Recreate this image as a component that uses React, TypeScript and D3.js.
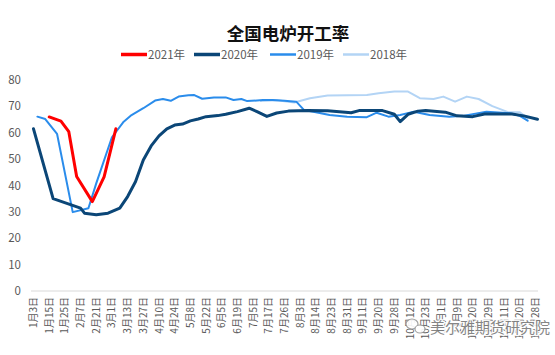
import React from "react";
import * as d3 from "d3";

const title = "全国电炉开工率";
const xLabels = [
  "1月3日", "1月15日", "1月25日", "2月7日", "2月21日", "3月1日", "3月13日", "3月27日",
  "4月10日", "4月24日", "5月8日", "5月22日", "6月5日", "6月19日", "7月5日", "7月17日",
  "7月26日", "8月3日", "8月14日", "8月23日", "8月31日", "9月11日", "9月20日", "9月28日",
  "10月12日", "10月23日", "11月1日", "11月9日", "11月20日", "11月29日", "12月11日", "12月20日", "12月28日",
];
const labelStep = 4; // one label every 4 date categories
const categoryCount = 129;
const yTicks = [0, 10, 20, 30, 40, 50, 60, 70, 80];

// [category index, value]
const s2021: [number, number][] = [
  [4, 66], [7, 64.4], [9, 60.4], [11, 43.4], [15, 33.9], [18, 43.3], [21, 61.5],
];
const s2020: [number, number][] = [
  [0, 61.5], [5, 35.0], [12, 31.4], [13, 29.5], [16, 28.9], [19, 29.5], [22, 31.4], [24, 35.8],
  [26, 41.4], [28, 49.7], [30, 55], [32, 58.8], [34, 61.5], [36, 62.9], [38, 63.3], [40, 64.5],
  [42, 65.2], [44, 66.1], [47, 66.5], [49, 67], [52, 68], [55, 69.3], [57, 68], [59.5, 66.2],
  [62, 67.5], [65, 68.2], [70, 68.4], [75, 68.3], [78, 68], [81, 67.6], [83, 68.4], [89, 68.4],
  [92, 67], [93.5, 64.2], [95.5, 67], [98, 68.2], [100, 68.4], [105, 67.8], [108, 66.4],
  [112, 66.1], [115, 67.1], [122, 67.1], [125, 66.4], [128.5, 65.1],
];
const s2019: [number, number][] = [
  [1, 66.1], [3, 65.2], [6, 59.6], [10, 29.9], [14, 31.4], [16, 40.8], [20, 58.3], [23, 64.2],
  [25, 66.7], [28, 69.3], [31, 72.2], [33, 72.8], [35, 72.1], [37, 73.7], [39.5, 74.2], [41, 74.3],
  [43, 72.9], [46, 73.4], [49, 73.4], [51, 72.4], [53, 72.8], [54.5, 72], [58.5, 72.4], [61, 72.4],
  [64, 72.1], [67, 71.8], [69, 68.6], [72, 67.8], [75.5, 66.7], [80, 66.1], [85, 65.9], [87.5, 67.6],
  [90.5, 66.1], [93.5, 66.7], [97, 68], [101, 66.7], [106, 66.1], [109.5, 66.4], [115.5, 68],
  [121.5, 67.4], [124, 66.4], [126, 64.6],
];
const s2018: [number, number][] = [
  [58, 72], [62, 72.3], [66.5, 71.5], [70.5, 73.1], [75, 74.1], [85, 74.3], [88, 75], [92, 75.6],
  [95.5, 75.6], [98.5, 73.1], [102, 72.8], [104.5, 73.7], [107.5, 71.8], [110.5, 73.7],
  [113.5, 72.8], [117, 70.1], [121, 67.8], [124, 67.8], [126, 65.5],
];

const seriesNames = ["2021年", "2020年", "2019年", "2018年"];
const seriesData = [s2021, s2020, s2019, s2018];
const seriesColors = ["#FF0000", "#0B4677", "#2A8CEB", "#B3D4F5"];
const seriesWidths = [3, 3, 2, 2];
const drawOrder = [3, 2, 1, 0];

export default function App() {
  const W = 555, H = 355;
  const x = d3.scaleLinear().domain([0, categoryCount - 1]).range([33.5, 535.5]);
  const y = d3.scaleLinear().domain([0, 80]).range([291, 80]);
  const line = d3.line<[number, number]>().x(d => x(d[0])).y(d => y(d[1]));
  const font = "'Noto Sans CJK SC', 'Noto Sans', sans-serif";
  const legendX = [121, 194, 270, 343];

  return (
    <svg width={W} height={H} style={{ position: "absolute", left: 0, top: 0, background: "#fff" }}>
      <rect width={W} height={H} fill="#fff" />
      <text x={288} y={40} textAnchor="middle" fontSize={17.5} fontWeight="bold" fontFamily={font} fill="#111">{title}</text>
      {seriesNames.map((n, i) => (
        <g key={n}>
          <line x1={legendX[i]} x2={legendX[i] + 26} y1={54.5} y2={54.5} stroke={seriesColors[i]} strokeWidth={seriesWidths[i] + 0.5} />
          <text x={legendX[i] + 27} y={58.5} fontSize={11.5} fontFamily={font} fill="#595959">{n}</text>
        </g>
      ))}
      {yTicks.map(t => (
        <text key={t} x={21} y={y(t) + 4} textAnchor="end" fontSize={11.5} fontFamily={font} fill="#595959">{t}</text>
      ))}
      <line x1={31} x2={538} y1={y(0)} y2={y(0)} stroke="#D9D9D9" strokeWidth={1} />
      {xLabels.map((l, j) => {
        const px = x(j * labelStep);
        return (
          <text key={l} transform={`translate(${px},297) rotate(-90)`} textAnchor="end" dy="0.35em"
            fontSize={10} fontFamily={font} fill="#595959">{l}</text>
        );
      })}
      {drawOrder.map(i => (
        <path key={i} d={line(seriesData[i]) || ""} fill="none" stroke={seriesColors[i]}
          strokeWidth={seriesWidths[i]} strokeLinejoin="round" strokeLinecap="round" />
      ))}
      <g opacity={0.9}>
        <ellipse cx={412} cy={324} rx={6} ry={5} fill="#fff" stroke="#999" strokeWidth={1.2} />
        <ellipse cx={420} cy={329} rx={5} ry={4} fill="#fff" stroke="#999" strokeWidth={1.2} />
        <text x={430} y={333} fontSize={15} fontFamily={font} fill="#7a7a7a" stroke="#fff" strokeWidth={2.5}
          style={{ paintOrder: "stroke" }}>美尔雅期货研究院</text>
      </g>
    </svg>
  );
}
